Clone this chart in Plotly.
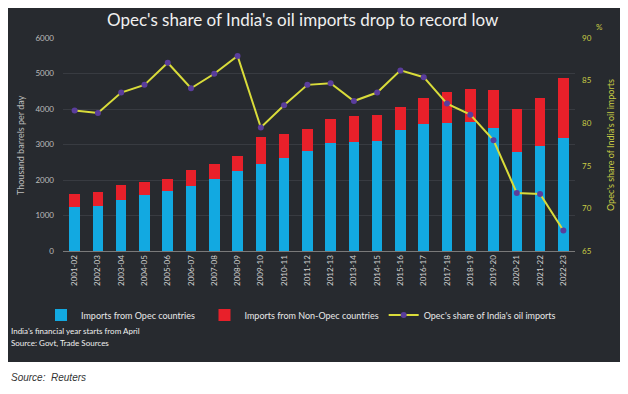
import plotly.graph_objects as go

years = ["2001-02","2002-03","2003-04","2004-05","2005-06","2006-07","2007-08","2008-09",
         "2009-10","2010-11","2011-12","2012-13","2013-14","2014-15","2015-16","2016-17",
         "2017-18","2018-19","2019-20","2020-21","2021-22","2022-23"]
opec_imports = [1230,1280,1440,1570,1680,1820,2020,2265,2460,2620,2830,3050,3060,3110,3420,3590,
                3610,3625,3455,2800,2970,3190]
total_imports = [1610,1675,1850,1955,2020,2280,2450,2675,3200,3305,3450,3730,3800,3820,4065,4300,
                 4490,4565,4535,4000,4300,4865]
non_opec_imports = [t - o for t, o in zip(total_imports, opec_imports)]
opec_share = [81.5,81.2,83.6,84.5,87.1,84.1,85.8,87.9,79.5,82.1,84.5,84.7,82.6,83.6,86.2,85.4,
              82.3,81.0,78.0,71.8,71.7,67.4]

BG = "#272a2f"
FONT = "Lato"
YEL = "#c9cc45"
NB = "\u00a0"

fig = go.Figure()
fig.add_trace(go.Bar(x=years, y=opec_imports, name="Imports from Opec countries" + NB * 2,
                     marker=dict(color="#12a9e1", line=dict(width=0))))
fig.add_trace(go.Bar(x=years, y=non_opec_imports, name="Imports from Non-Opec countries",
                     marker=dict(color="#e8202a", line=dict(width=0))))
fig.add_trace(go.Scatter(x=years, y=opec_share, name="Opec's share of India's oil imports",
                         yaxis="y2", mode="lines+markers",
                         line=dict(color="#d9dc3a", width=2),
                         marker=dict(color="#5a3d9c", size=6)))

# the page body has an 8px margin; work in window pixel coordinates
OFF = 8
W, H = 628 - OFF, 394 - OFF
PL, PR, PT, PB = 63, 575, 38, 251   # plot area in window pixels
L, R, T, B = PL - OFF, W - (PR - OFF), PT - OFF, H - (PB - OFF)
pw, ph = W - L - R, H - T - B

def px(x):
    return (x - OFF - L) / pw

def py(y):
    return (H - B - (y - OFF)) / ph

fig.add_shape(type="rect", xref="paper", yref="paper", layer="below",
              x0=px(3), x1=px(624), y0=py(362), y1=py(5),
              fillcolor=BG, line=dict(width=0))

def ann(text, x, y, size, color, xanchor="center", angle=0, family=FONT):
    return dict(text=text, xref="paper", yref="paper", x=px(x), y=py(y), xanchor=xanchor,
                yanchor="middle", textangle=angle, showarrow=False,
                font=dict(size=size, color=color, family=family))

fig.update_layout(
    width=W, height=H,
    margin=dict(l=L, r=R, t=T, b=B),
    paper_bgcolor="white", plot_bgcolor=BG,
    barmode="stack", bargap=0.55,
    font=dict(family=FONT, color="#cfcfcf", size=8),
    showlegend=True,
    legend=dict(orientation="h", x=px(41), y=py(315), xanchor="left", yanchor="middle",
                font=dict(size=9, color="#e8e8e8", family=FONT), bgcolor="rgba(0,0,0,0)",
                traceorder="normal", itemwidth=30),
    xaxis=dict(type="category", tickangle=-90, tickfont=dict(size=8, color="#d0d0d0"),
               showgrid=False, showline=True, linecolor="#7a7a7a", linewidth=1,
               ticks="", range=[-0.5, 21.5]),
    yaxis=dict(range=[0, 6000], dtick=1000, tickfont=dict(size=8, color="#bdbdbd"),
               gridcolor="#383b41", gridwidth=1, zeroline=False, ticks="",
               ticklabelstandoff=8),
    yaxis2=dict(range=[65, 90], dtick=5, overlaying="y", side="right", showgrid=False,
                tickfont=dict(size=8, color=YEL), zeroline=False, ticks="",
                ticklabelstandoff=6),
    annotations=[
        ann("Opec's share of India's oil imports drop to record low", 303, 19.5, 17, "#f0f0f0"),
        ann("Thousand barrels per day", 20, 145, 9, "#bdbdbd", angle=-90),
        ann("Opec's share of India's oil imports", 610, 145, 9, YEL, angle=-90),
        ann("%", 599, 27, 8, YEL),
        ann("India's financial year starts from April", 9, 331, 8, "#f0f0f0", xanchor="left"),
        ann("Source: Govt, Trade Sources", 9, 343, 8, "#f0f0f0", xanchor="left"),
        ann("<i>Source:  Reuters</i>", 9, 377, 10, "#333333", xanchor="left",
            family="Liberation Sans"),
    ],
)

fig.write_html("out.html")
